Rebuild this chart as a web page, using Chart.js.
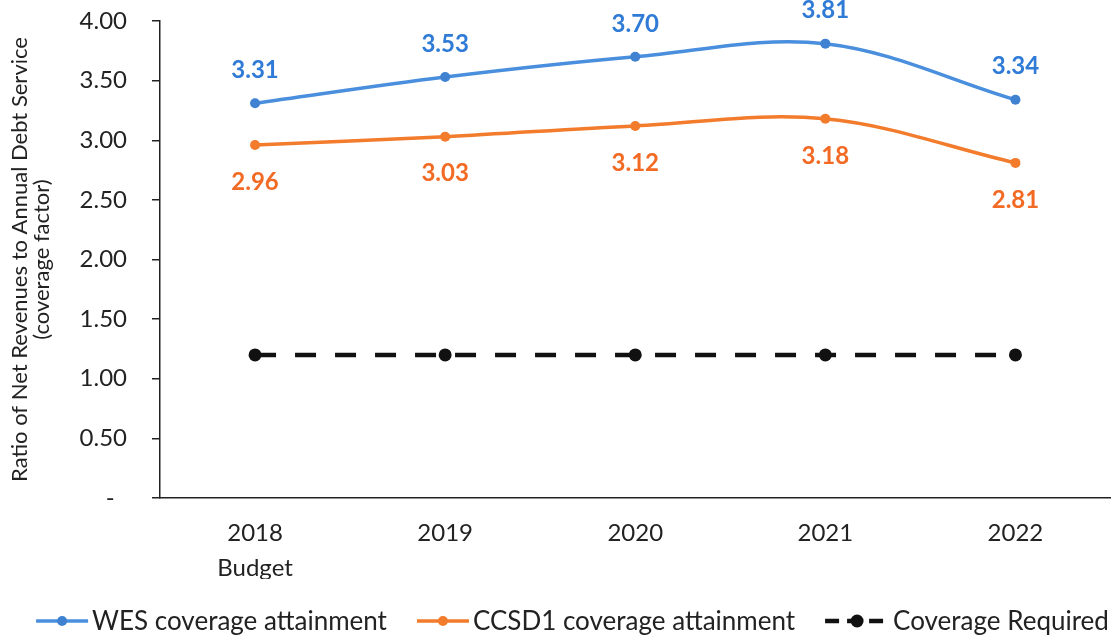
<!DOCTYPE html>
<html>
<head>
<meta charset="utf-8">
<script src="https://cdn.jsdelivr.net/npm/chart.js@4.4.0/dist/chart.umd.min.js"></script>
<style>
  html, body { margin: 0; padding: 0; background: #fff; }
  #wrap { width: 1117px; height: 639px; position: relative; }
</style>
</head>
<body>
<div id="wrap"><canvas id="coverageChart"></canvas></div>
<script>
// --- DATA ---
const years = [["2018", "Budget"], "2019", "2020", "2021", "2022"];
const wesCoverage = [3.31, 3.53, 3.70, 3.81, 3.34];
const ccsdCoverage = [2.96, 3.03, 3.12, 3.18, 2.81];
const requiredCoverage = [1.20, 1.20, 1.20, 1.20, 1.20];
const yTitle = ["Ratio of Net Revenues to Annual Debt Service", "(coverage factor)"];

const FONT = "Lato, 'Open Sans', sans-serif";
const INK = "#222";

// value labels above / below each point
const valueLabels = {
    id: "valueLabels",
    afterDatasetsDraw(chart) {
        const ctx = chart.ctx;
        chart.data.datasets.forEach((ds, i) => {
            if (!ds.labelOffset) return;
            const meta = chart.getDatasetMeta(i);
            ctx.save();
            ctx.font = "bold 24px " + FONT;
            ctx.fillStyle = ds.labelColor;
            ctx.textAlign = "center";
            ctx.textBaseline = "middle";
            meta.data.forEach((pt, j) => {
                ctx.fillText(ds.data[j].toFixed(2), pt.x, pt.y + ds.labelOffset);
            });
            ctx.restore();
        });
    }
};

// legend row along the bottom, line sample + marker + text
const lineLegend = {
    id: "lineLegend",
    afterDraw(chart) {
        const ctx = chart.ctx;
        const y = 621;
        const gap = 4, spacing = 30;
        ctx.save();
        ctx.font = "26px " + FONT;
        ctx.textBaseline = "middle";
        const items = chart.data.datasets.map(ds => ({
            ds,
            sample: ds.borderDash && ds.borderDash.length ? 64 : 52,
            textW: ctx.measureText(ds.label).width
        }));
        let total = 0;
        items.forEach(it => total += it.sample + gap + it.textW);
        total += spacing * (items.length - 1);
        let x = (chart.width - total) / 2 + 14;
        items.forEach(it => {
            const ds = it.ds;
            ctx.save();
            ctx.strokeStyle = ds.borderColor;
            ctx.lineWidth = ds.borderWidth;
            if (ds.borderDash) ctx.setLineDash([14, 8]);
            ctx.beginPath();
            ctx.moveTo(x, y);
            ctx.lineTo(x + it.sample, y);
            ctx.stroke();
            ctx.setLineDash([]);
            ctx.fillStyle = ds.pointBackgroundColor;
            ctx.beginPath();
            ctx.arc(x + it.sample / 2, y, ds.pointRadius, 0, Math.PI * 2);
            ctx.fill();
            ctx.restore();
            ctx.fillStyle = INK;
            ctx.fillText(ds.label, x + it.sample + gap, y + 1);
            x += it.sample + gap + it.textW + spacing;
        });
        ctx.restore();
    }
};

const ctx = document.getElementById("coverageChart").getContext("2d");
const chart = new Chart(ctx, {
    type: "line",
    data: {
        labels: years,
        datasets: [
            {
                label: "WES coverage attainment",
                data: wesCoverage,
                borderColor: "#4A8FDD", backgroundColor: "#4A8FDD",
                pointBackgroundColor: "#3F82D2", pointBorderWidth: 0,
                borderWidth: 3.5, pointRadius: 5, tension: 0.35,
                labelColor: "#2F7BD6", labelOffset: -33
            },
            {
                label: "CCSD1 coverage attainment",
                data: ccsdCoverage,
                borderColor: "#F27B2C", backgroundColor: "#F27B2C",
                pointBackgroundColor: "#F27B2C", pointBorderWidth: 0,
                borderWidth: 3.5, pointRadius: 5, tension: 0.35,
                labelColor: "#F26A24", labelOffset: 37
            },
            {
                label: "Coverage Required",
                data: requiredCoverage,
                borderColor: "#111", backgroundColor: "#111",
                pointBackgroundColor: "#111", pointBorderWidth: 0,
                borderWidth: 4.5, pointRadius: 6.5, borderDash: [21, 19],
                borderCapStyle: "butt", tension: 0
            }
        ]
    },
    options: {
        responsive: true,
        maintainAspectRatio: false,
        animation: false,
        layout: { padding: { top: 21, right: 0, bottom: 60, left: 0 } },
        plugins: { legend: { display: false }, tooltip: { enabled: false } },
        scales: {
            x: {
                offset: true,
                grid: { display: false, drawTicks: false },
                border: { color: INK, width: 1.5 },
                ticks: { color: INK, font: { family: FONT, size: 24, lineHeight: 1.45 }, padding: 18, maxRotation: 0 },
                afterFit: s => { s.height = 81; s.paddingLeft = 0; s.paddingRight = 0; }
            },
            y: {
                min: 0, max: 4,
                grid: { drawOnChartArea: false, drawTicks: true, tickLength: 8, color: INK, lineWidth: 1.5 },
                border: { color: INK, width: 1.5 },
                ticks: {
                    stepSize: 0.5, color: INK, padding: 25,
                    font: { family: FONT, size: 24 },
                    callback: v => v === 0 ? "-  " : v.toFixed(2)
                },
                title: {
                    display: true, text: yTitle, color: INK,
                    font: { family: FONT, size: 22, lineHeight: 1.0 },
                    padding: { top: 9, bottom: 0 }
                },
                afterFit: s => { s.width = 160; s.paddingTop = 0; s.paddingBottom = 0; }
            }
        }
    },
    plugins: [valueLabels, lineLegend]
});
</script>
</body>
</html>
